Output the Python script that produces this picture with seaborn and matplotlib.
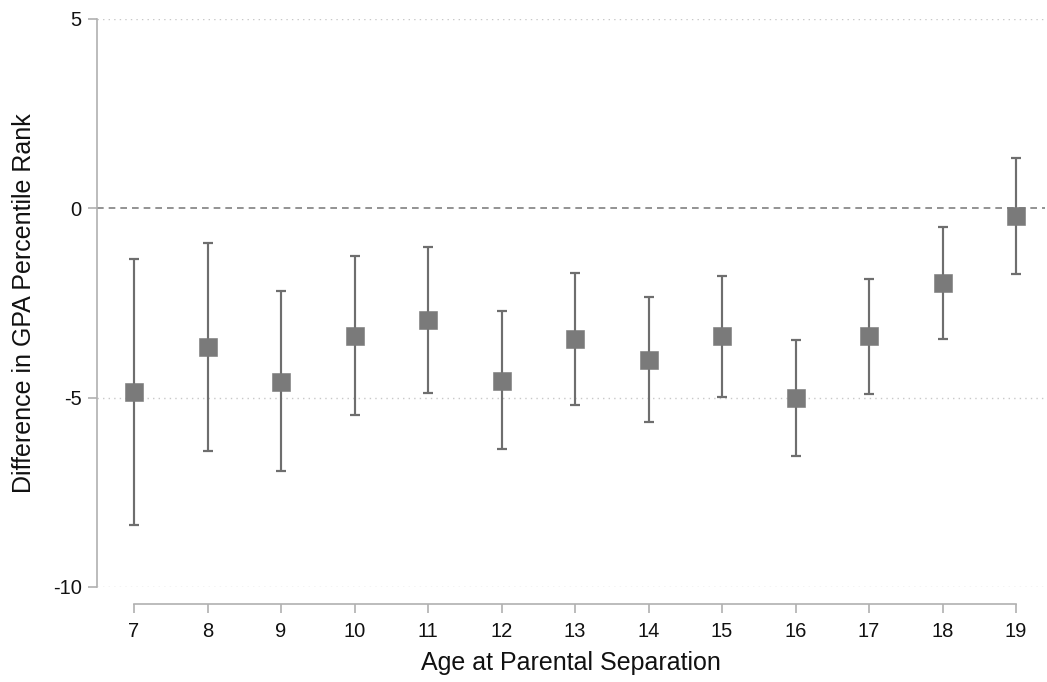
import matplotlib
matplotlib.use("Agg")
import matplotlib.pyplot as plt
import seaborn as sns
import pandas as pd

# Estimates by age at parental separation
ages = [7, 8, 9, 10, 11, 12, 13, 14, 15, 16, 17, 18, 19]
estimate = [-4.85, -3.67, -4.59, -3.38, -2.96, -4.56, -3.46, -4.01, -3.38, -5.01, -3.38, -1.98, -0.21]
ci_low = [-8.36, -6.41, -6.94, -5.46, -4.88, -6.36, -5.20, -5.65, -4.99, -6.54, -4.91, -3.46, -1.74]
ci_high = [-1.35, -0.92, -2.19, -1.27, -1.03, -2.72, -1.72, -2.35, -1.79, -3.48, -1.87, -0.50, 1.32]
y_ticks = [-10, -5, 0, 5]

df = pd.DataFrame({"age": ages, "est": estimate, "lo": ci_low, "hi": ci_high})

sns.set_theme(style="white")
plt.rcParams["font.family"] = ["Liberation Sans", "DejaVu Sans"]

fig = plt.figure(figsize=(10.47, 6.82), dpi=100)
ax = fig.add_axes([97 / 1047, 1 - 587 / 682, (1045 - 97) / 1047, (587 - 19) / 682])

x_per_px = 12 / (1016 - 134)
ax.set_xlim(7 - (134 - 97) * x_per_px, 19 + (1045 - 1016) * x_per_px)
ax.set_ylim(-10, 5)

# Horizontal reference lines
for yv in [-10, -5, 5]:
    ax.axhline(yv, color="#c8c8c8", lw=1.0, ls=(0, (1, 3)), zorder=0)
ax.axhline(0, color="#808080", lw=1.2, ls=(0, (4, 3)), zorder=0)

# Confidence intervals
ax.errorbar(df["age"], df["est"],
            yerr=[df["est"] - df["lo"], df["hi"] - df["est"]],
            fmt="none", ecolor="#6e6e6e", elinewidth=1.55, capsize=3.7, capthick=1.6, zorder=2)

# Point estimates
sns.scatterplot(data=df, x="age", y="est", marker="s", s=185, color="#7a7a7a",
                edgecolor="#7a7a7a", linewidth=0.4, ax=ax, zorder=3, legend=False)

ax.set_xticks(ages)
ax.set_xticklabels([str(a) for a in ages])
ax.set_yticks(y_ticks)
ax.set_yticklabels([str(v) for v in y_ticks])

for side in ["top", "right"]:
    ax.spines[side].set_visible(False)
ax.spines["left"].set_color("#b0b0b0")
ax.spines["left"].set_linewidth(1.2)
ax.spines["left"].set_bounds(-10, 5)
ax.spines["bottom"].set_color("#b0b0b0")
ax.spines["bottom"].set_linewidth(1.2)
ax.spines["bottom"].set_position(("outward", 12.2))
ax.spines["bottom"].set_bounds(7, 19)

ax.tick_params(axis="both", which="major", length=6.5, width=1.2, color="#b0b0b0",
               labelsize=14.5, labelcolor="#111111", direction="out", bottom=True, left=True)
ax.tick_params(axis="x", pad=6.5)
ax.tick_params(axis="y", pad=4.5)

ax.set_xlabel("Age at Parental Separation", fontsize=18, color="#111111", labelpad=7)
ax.set_ylabel("Difference in GPA Percentile Rank", fontsize=18, color="#111111", labelpad=12)

fig.savefig("out.png", dpi=100)
